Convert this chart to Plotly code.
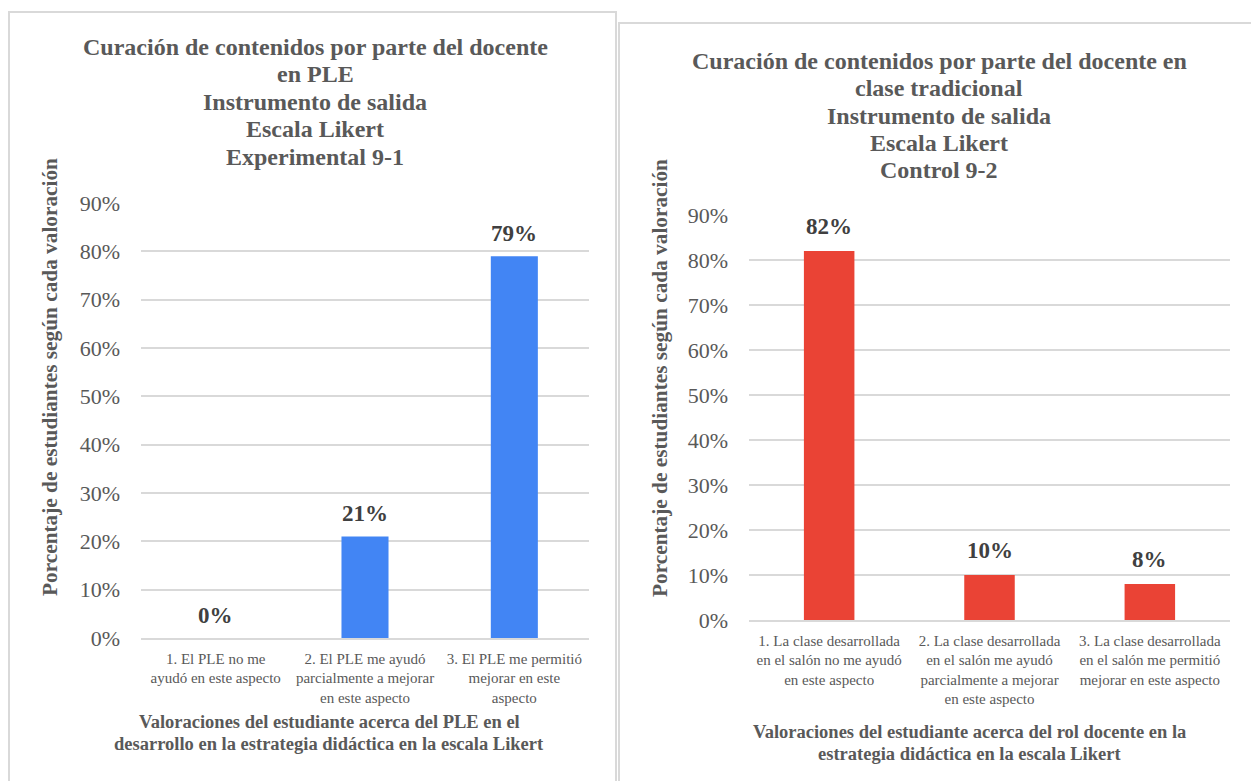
import plotly.graph_objects as go

# Data: percentage of students per Likert rating
exp_categories = [
    "1. El PLE no me<br>ayudó en este aspecto",
    "2. El PLE me ayudó<br>parcialmente a mejorar<br>en este aspecto",
    "3. El PLE me permitió<br>mejorar en este<br>aspecto",
]
exp_values = [0, 21, 79]

ctl_categories = [
    "1. La clase desarrollada<br>en el salón no me ayudó<br>en este aspecto",
    "2. La clase desarrollada<br>en el salón me ayudó<br>parcialmente a mejorar<br>en este aspecto",
    "3. La clase desarrollada<br>en el salón me permitió<br>mejorar en este aspecto",
]
ctl_values = [82, 10, 8]

exp_title = [
    "Curación de contenidos por parte del docente",
    "en PLE",
    "Instrumento de salida",
    "Escala Likert",
    "Experimental 9-1",
]
ctl_title = [
    "Curación de contenidos por parte del docente en",
    "clase tradicional",
    "Instrumento de salida",
    "Escala Likert",
    "Control 9-2",
]
exp_xtitle = [
    "Valoraciones del estudiante acerca del PLE en el",
    "desarrollo en la estrategia didáctica en la escala Likert",
]
ctl_xtitle = [
    "Valoraciones del estudiante acerca del rol docente en la",
    "estrategia didáctica en la escala Likert",
]
ytitle = "Porcentaje de estudiantes según cada valoración"
y_ticks = [0, 10, 20, 30, 40, 50, 60, 70, 80, 90]
y_ticktext = [f"{v}%" for v in y_ticks]

W, H = 1251, 781
FONT = "Liberation Serif"
GREY = "#595959"
DARK = "#404040"
GRID = "#d9d9d9"


def px_x(x):
    return x / W


def px_y(y):
    return 1 - y / H


fig = go.Figure()
fig.add_trace(go.Bar(x=exp_categories, y=exp_values, marker_color="#4285F4",
                     width=0.315, xaxis="x", yaxis="y", hoverinfo="skip"))
fig.add_trace(go.Bar(x=ctl_categories, y=ctl_values, marker_color="#EA4335",
                     width=0.315, xaxis="x2", yaxis="y2", hoverinfo="skip"))

axis_common = dict(
    showgrid=True, gridcolor=GRID, gridwidth=1.5,
    range=[0, 90], tickmode="array", tickvals=y_ticks, ticktext=y_ticktext,
    tickfont=dict(family=FONT, size=22, color=GREY),
    ticklabelstandoff=20, showline=False, zeroline=False, fixedrange=True,
    automargin=False,
)
xaxis_common = dict(
    showgrid=False, showline=True, linecolor=GRID, linewidth=1.5,
    tickfont=dict(family=FONT, size=15, color=GREY), ticks="",
    ticklabelstandoff=6, fixedrange=True, automargin=False,
)

fig.update_layout(
    template="none",
    width=W, height=H, autosize=False,
    margin=dict(l=0, r=0, t=0, b=0, pad=0),
    paper_bgcolor="white", plot_bgcolor="white",
    showlegend=False,
    xaxis=dict(domain=[px_x(141), px_x(589)], anchor="y", **xaxis_common),
    yaxis=dict(domain=[px_y(638), px_y(203)], anchor="x", **axis_common),
    xaxis2=dict(domain=[px_x(749), px_x(1230)], anchor="y2", **xaxis_common),
    yaxis2=dict(domain=[px_y(620), px_y(215)], anchor="x2", **axis_common),
)

# Panel borders
fig.add_shape(type="rect", xref="paper", yref="paper",
              x0=px_x(9), x1=px_x(616), y0=px_y(800), y1=px_y(12),
              line=dict(color=GRID, width=2), fillcolor="rgba(0,0,0,0)", layer="below")
fig.add_shape(type="rect", xref="paper", yref="paper",
              x0=px_x(619), x1=px_x(1262), y0=px_y(800), y1=px_y(23),
              line=dict(color=GRID, width=2), fillcolor="rgba(0,0,0,0)", layer="below")

annotations = []

# Titles, one line per annotation
for i, line in enumerate(exp_title):
    annotations.append(dict(text=f"<b>{line}</b>", xref="paper", yref="paper",
                            x=px_x(315), y=px_y(47 + 27.5 * i), xanchor="center", yanchor="middle",
                            showarrow=False, font=dict(family=FONT, size=24, color=GREY)))
for i, line in enumerate(ctl_title):
    annotations.append(dict(text=f"<b>{line}</b>", xref="paper", yref="paper",
                            x=px_x(939), y=px_y(61 + 27.3 * i), xanchor="center", yanchor="middle",
                            showarrow=False, font=dict(family=FONT, size=24, color=GREY)))

# X axis titles
for i, line in enumerate(exp_xtitle):
    annotations.append(dict(text=f"<b>{line}</b>", xref="paper", yref="paper",
                            x=px_x(329), y=px_y(722 + 21.5 * i), xanchor="center", yanchor="middle",
                            showarrow=False, font=dict(family=FONT, size=18.5, color=GREY)))
for i, line in enumerate(ctl_xtitle):
    annotations.append(dict(text=f"<b>{line}</b>", xref="paper", yref="paper",
                            x=px_x(969), y=px_y(732 + 21.5 * i), xanchor="center", yanchor="middle",
                            showarrow=False, font=dict(family=FONT, size=18.5, color=GREY)))

# Y axis titles
annotations.append(dict(text=f"<b>{ytitle}</b>", xref="paper", yref="paper",
                        x=px_x(50), y=px_y(377), xanchor="center", yanchor="middle", textangle=-90,
                        showarrow=False, font=dict(family=FONT, size=21.3, color=GREY)))
annotations.append(dict(text=f"<b>{ytitle}</b>", xref="paper", yref="paper",
                        x=px_x(660), y=px_y(378), xanchor="center", yanchor="middle", textangle=-90,
                        showarrow=False, font=dict(family=FONT, size=21.3, color=GREY)))

# Value labels above bars
for cat, val in zip(exp_categories, exp_values):
    annotations.append(dict(text=f"<b>{val}%</b>", xref="x", yref="y", x=cat, y=val,
                            xanchor="center", yanchor="middle", yshift=23, showarrow=False,
                            font=dict(family=FONT, size=23, color=DARK)))
for cat, val in zip(ctl_categories, ctl_values):
    annotations.append(dict(text=f"<b>{val}%</b>", xref="x2", yref="y2", x=cat, y=val,
                            xanchor="center", yanchor="middle", yshift=25, showarrow=False,
                            font=dict(family=FONT, size=23, color=DARK)))

fig.update_layout(annotations=annotations)

fig.write_html("out.html", config={"displayModeBar": False})
